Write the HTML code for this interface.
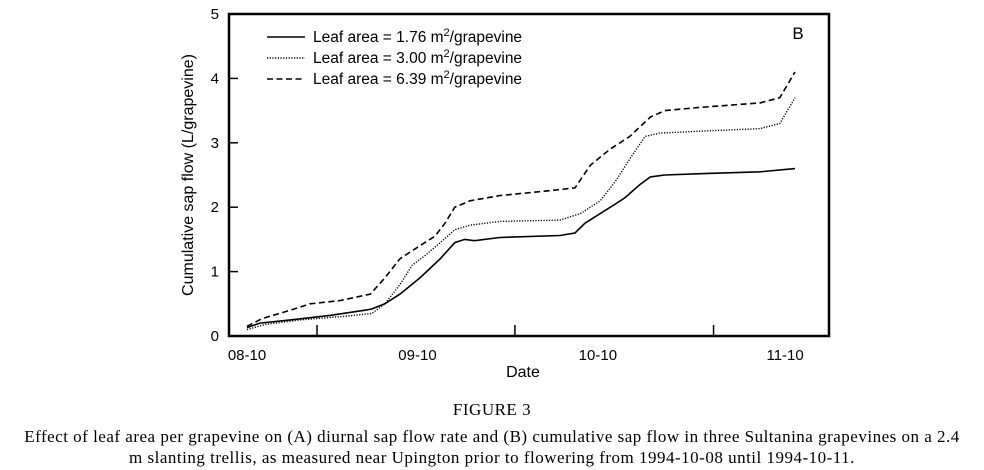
<!DOCTYPE html>
<html><head><meta charset="utf-8"><style>
body{margin:0;background:#fff;width:984px;height:470px;overflow:hidden;font-family:"Liberation Sans",Arial,sans-serif}
.cap{position:absolute;left:0;width:984px;text-align:center;font-family:"Liberation Serif",serif;font-size:17px;letter-spacing:0.5px;color:#000;white-space:nowrap}
</style></head><body>
<svg id="chart" width="984" height="400" style="position:absolute;left:0;top:0" font-family="Liberation Sans, Arial, sans-serif"></svg>
<div class="cap" style="top:400px">FIGURE 3</div>
<div class="cap" style="top:426px;line-height:21px">Effect of leaf area per grapevine on (A) diurnal sap flow rate and (B) cumulative sap flow in three Sultanina grapevines on a 2.4<br>m slanting trellis, as measured near Upington prior to flowering from 1994-10-08 until 1994-10-11.</div>
<script>
const yTicks=[0,1,2,3,4,5];
const xTickLabels=["08-10","09-10","10-10","11-10"];
const xLabelHours=[0,22.4,46.1,70.7];
const xMinorHours=[9.2,35.2,61.3];
const s1Hours=[0,1.7,5.7,10.9,15.5,16.4,18.1,20.1,22.7,25.4,27.3,28.6,29.9,33.2,41.1,43.1,44.4,46.4,48.4,49.7,51.6,53.0,54.9,59.5,67.4,72];
const s1Vals=[0.13,0.2,0.25,0.32,0.4,0.42,0.5,0.65,0.9,1.2,1.45,1.5,1.48,1.53,1.56,1.6,1.75,1.9,2.05,2.15,2.35,2.47,2.5,2.52,2.55,2.6];
const s2Hours=[0,2.4,7.0,12.2,16.4,18.1,20.1,21.7,23.4,25.4,27.3,29.3,33.2,41.1,43.8,46.4,48.4,50.3,52.3,54.3,59.5,67.4,70.0,72];
const s2Vals=[0.1,0.18,0.25,0.3,0.35,0.5,0.8,1.1,1.25,1.45,1.65,1.72,1.78,1.8,1.9,2.1,2.4,2.75,3.1,3.15,3.18,3.22,3.3,3.7];
const s3Hours=[0,2.0,5.7,8.3,12.2,16.2,18.1,20.1,22.7,24.7,26.0,27.3,29.3,33.2,39.2,43.1,45.1,47.7,50.3,53.0,54.9,59.5,67.4,70.0,72];
const s3Vals=[0.15,0.27,0.4,0.5,0.55,0.65,0.9,1.2,1.4,1.55,1.75,2.0,2.1,2.18,2.25,2.3,2.65,2.9,3.1,3.4,3.5,3.55,3.62,3.7,4.1];
const L=229,R=829,T=14,B=336;
const xs=h=>247+h*(548/72);
const ys=v=>B-v*(B-T)/5;
const svg=document.getElementById('chart');
const NS='http://www.w3.org/2000/svg';
function mk(t,a,p){const e=document.createElementNS(NS,t);for(const k in a)e.setAttribute(k,a[k]);(p||svg).appendChild(e);return e;}
let e=mk('rect',{x:L,y:T,width:R-L,height:B-T,fill:'none',stroke:'#000','stroke-width':2.5});


yTicks.forEach(v=>{
  if(v>0&&v<5){let t=mk('line',{x1:L,x2:L+9,y1:ys(v),y2:ys(v),stroke:'#000','stroke-width':1.5});
  
  }
  let l=mk('text',{x:L-10,y:ys(v)+5,'text-anchor':'end','font-size':15});l.textContent=v;
  
  
});
xMinorHours.forEach(h=>{let t=mk('line',{x1:xs(h),x2:xs(h),y1:B,y2:B-11,stroke:'#000','stroke-width':1.5});
  
  });
xTickLabels.forEach((s,i)=>{let l=mk('text',{x:xs(xLabelHours[i]),y:B+24,'text-anchor':'middle','font-size':15});l.textContent=s;
  
  });
let xt=mk('text',{x:523,y:377,'text-anchor':'middle','font-size':16});xt.textContent='Date';


let yt=mk('text',{x:0,y:0,'text-anchor':'middle','font-size':16,transform:`translate(193,${(T+B)/2}) rotate(-90)`});yt.textContent='Cumulative sap flow (L/grapevine)';


let pl=mk('text',{x:798,y:39,'font-size':17,'text-anchor':'middle'});pl.textContent='B';


const series=[[s1Hours,s1Vals,'','1.76','series-1-76'],[s2Hours,s2Vals,'1.2 1.5','3.00','series-3-00'],[s3Hours,s3Vals,'6 3.5','6.39','series-6-39']];
series.forEach((s,i)=>{
  const d=s[0].map((h,j)=>(j?'L':'M')+xs(h).toFixed(1)+','+ys(s[1][j]).toFixed(1)).join('');
  const p=mk('path',{d,fill:'none',stroke:'#000','stroke-width':i==1?1.4:1.6,'stroke-dasharray':s[2]});
  
  
  const g=mk('g',{});
  
  
  const ly=37+i*21;
  mk('line',{x1:267,x2:305,y1:ly,y2:ly,stroke:'#000','stroke-width':1.4,'stroke-dasharray':s[2]},g);
  const t=mk('text',{x:313,y:ly+5,'font-size':15.5},g);
  t.innerHTML='Leaf area = '+s[3]+' m<tspan dy="-6" font-size="11">2</tspan><tspan dy="6">/grapevine</tspan>';
});
</script>
</body></html>
